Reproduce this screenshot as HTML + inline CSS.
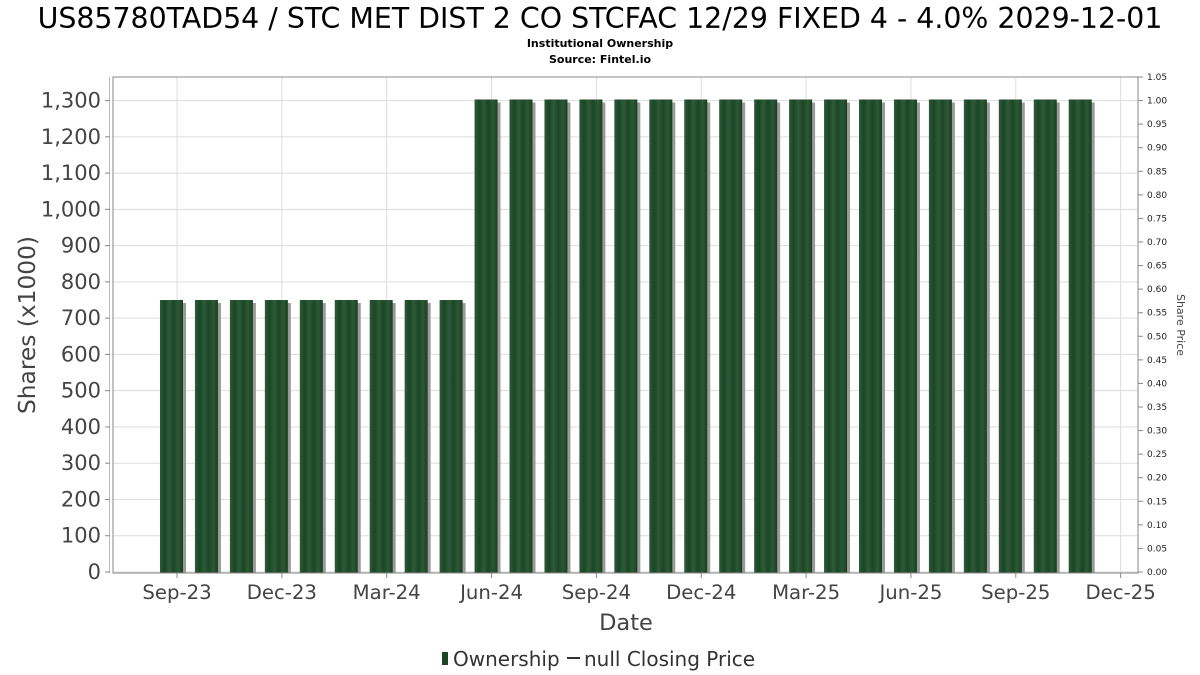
<!DOCTYPE html>
<html><head><meta charset="utf-8"><style>
html,body{margin:0;padding:0;background:#fff;}
svg{display:block;font-family:"DejaVu Sans","Liberation Sans",sans-serif;}
</style></head><body>
<svg id="chart" width="1200" height="675" viewBox="0 0 1200 675">
<defs>
<linearGradient id="barg" x1="0" x2="1" y1="0" y2="0">
<stop offset="0" stop-color="#2f5a3a"/><stop offset="0.2" stop-color="#1b4626"/>
<stop offset="0.4" stop-color="#2e5a38"/><stop offset="0.6" stop-color="#1b4727"/>
<stop offset="0.8" stop-color="#2d5836"/><stop offset="1" stop-color="#174020"/>
</linearGradient>
</defs>
<text x="600" y="28" text-anchor="middle" font-size="28.4" fill="#000">US85780TAD54 / STC MET DIST 2 CO STCFAC 12/29 FIXED 4 - 4.0% 2029-12-01</text>
<text x="600" y="47" text-anchor="middle" font-size="11" font-weight="bold">Institutional Ownership</text>
<text x="600" y="63" text-anchor="middle" font-size="11" font-weight="bold">Source: Fintel.io</text>
<g id="grid"></g>
<g id="bars"></g>
<rect x="113" y="77" width="1025" height="496" fill="none" stroke="#888" stroke-width="1"/>
<line x1="109.5" y1="77" x2="109.5" y2="573" stroke="#bbb"/>
<g id="axes"></g>
<text transform="translate(35,325) rotate(-90)" text-anchor="middle" font-size="23.3" fill="#444">Shares (x1000)</text>
<text transform="translate(1177,325) rotate(90)" text-anchor="middle" font-size="11" fill="#444">Share Price</text>
<text x="626" y="630" text-anchor="middle" font-size="22.5" fill="#444">Date</text>
<g>
<rect x="442" y="652" width="6" height="13" fill="#1b4626"/>
<text x="453" y="666" font-size="20" fill="#333">Ownership</text>
<line x1="567" y1="658" x2="580" y2="658" stroke="#333" stroke-width="2"/>
<text x="584" y="666" font-size="20" fill="#333">null Closing Price</text>
</g>
</svg>
<script>
const months = ["2023-09","2023-10","2023-11","2023-12","2024-01","2024-02","2024-03","2024-04","2024-05","2024-06","2024-07","2024-08","2024-09","2024-10","2024-11","2024-12","2025-01","2025-02","2025-03","2025-04","2025-05","2025-06","2025-07","2025-08","2025-09","2025-10","2025-11"];
const shares = [750,750,750,750,750,750,750,750,750,1303,1303,1303,1303,1303,1303,1303,1303,1303,1303,1303,1303,1303,1303,1303,1303,1303,1303];
const yTicks = [0,100,200,300,400,500,600,700,800,900,1000,1100,1200,1300];
const y2Ticks = [0,0.05,0.1,0.15,0.2,0.25,0.3,0.35,0.4,0.45,0.5,0.55,0.6,0.65,0.7,0.75,0.8,0.85,0.9,0.95,1.0,1.05];
const xTickLabels = ["Sep-23","Dec-23","Mar-24","Jun-24","Sep-24","Dec-24","Mar-25","Jun-25","Sep-25","Dec-25"];
const xTickMonths = ["2023-09","2023-12","2024-03","2024-06","2024-09","2024-12","2025-03","2025-06","2025-09","2025-12"];

const NS="http://www.w3.org/2000/svg";
const top_=77, bot=572, yMax=1365;
function y(v){return bot-(v/yMax)*(bot-top_);}
function y2(v){return bot-(v/1.05)*(bot-top_);}
function mIdx(s){const [a,b]=s.split("-").map(Number);return (a-2023)*12+(b-9);}
function x(s){return 177+mIdx(s)*34.95;}
function mk(tag,attrs,parent){const e=document.createElementNS(NS,tag);for(const k in attrs)e.setAttribute(k,attrs[k]);parent.appendChild(e);return e;}
const grid=document.getElementById("grid"),bars=document.getElementById("bars"),axes=document.getElementById("axes");
yTicks.forEach(v=>{
  const l=mk("line",{x1:113,x2:1138,y1:y(v),y2:y(v),stroke:"#ddd"},grid);
  
  
  mk("line",{x1:105,x2:110,y1:y(v),y2:y(v),stroke:"#888"},axes);
  const t=mk("text",{x:101,y:y(v)+7,"text-anchor":"end","font-size":21,fill:"#444"},axes);
  t.textContent=v.toLocaleString("en-US");
  
  
});
y2Ticks.forEach(v=>{
  mk("line",{x1:1138,x2:1143,y1:y2(v),y2:y2(v),stroke:"#888"},axes);
  const t=mk("text",{x:1147,y:y2(v)+3,"font-size":9,fill:"#222"},axes);
  t.textContent=v.toFixed(2);
  
  
});
xTickMonths.forEach((m,i)=>{
  const gx=x(m);
  const l=mk("line",{x1:gx,x2:gx,y1:top_,y2:bot,stroke:"#ddd"},grid);
  
  
  mk("line",{x1:gx,x2:gx,y1:573,y2:578,stroke:"#888"},axes);
  const t=mk("text",{x:gx,y:599,"text-anchor":"middle","font-size":19.7,fill:"#444"},axes);
  t.textContent=xTickLabels[i];
  
  
});
months.forEach((m,i)=>{
  const cx=x(m)-5.5, w=23, top=y(shares[i]);
  const s=mk("rect",{x:cx-w/2+3,y:top+3,width:w,height:bot-top-3+1,fill:"#9a9a9a"},bars);
  
  
  const b=mk("rect",{x:cx-w/2,y:top,width:w,height:bot-top+1,fill:"url(#barg)"},bars);
  
  
});
</script>
</body></html>
